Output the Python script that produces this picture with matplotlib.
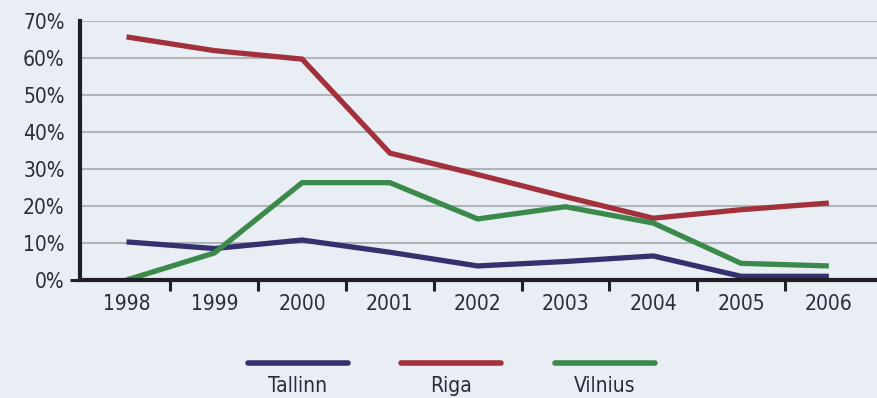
import matplotlib.pyplot as plt
from matplotlib.lines import Line2D
import numpy as np

years = ["1998", "1999", "2000", "2001", "2002", "2003", "2004", "2005", "2006"]
tallinn = [10.3, 8.5, 10.8, 7.5, 3.8, 5.0, 6.5, 1.0, 1.0]
riga = [65.7, 62.0, 59.7, 34.3, 28.5, 22.5, 16.7, 19.0, 20.8]
vilnius = [0.0, 7.3, 26.3, 26.3, 16.5, 19.8, 15.4, 4.5, 3.8]

names = ["Tallinn", "Riga", "Vilnius"]
series = [tallinn, riga, vilnius]
colors = ["#35306e", "#a3313b", "#3b8a4c"]

bg = "#e8eef4"
text_col = "#2b2b3c"
plt.rcParams['font.family'] = ['DejaVu Sans']
plt.rcParams['font.stretch'] = 'condensed'

fig = plt.figure(figsize=(8.78, 3.98), dpi=100, facecolor=bg)
ax = fig.add_axes([80 / 878, 118 / 398, 798 / 878, 259 / 398])
ax.set_facecolor(bg)

x = np.arange(len(years))
for vals, col in zip(series, colors):
    ax.plot(x, vals, color=col, lw=3.8, solid_capstyle="butt", solid_joinstyle="miter", zorder=3)

ax.set_xlim(-0.53, len(years) - 0.44)
ax.set_ylim(0, 70)

ax.set_yticks(np.arange(0, 71, 10))
ax.set_yticklabels([f"{v}%" for v in range(0, 71, 10)], fontsize=15, color=text_col)
ax.tick_params(axis="y", length=7, width=2.2, color="#1e1e24", pad=4)
# only the 0% tick is drawn
for t in ax.yaxis.get_major_ticks()[1:]:
    t.tick1line.set_visible(False)
ax.grid(axis="y", color="#b0b4b9", lw=1.5, zorder=1)

# tick marks between categories, labels at the centers
ax.set_xticks(np.arange(0.5, len(years) - 0.5, 1))
ax.set_xticklabels([])
ax.tick_params(axis="x", which="major", direction="out", length=8, width=2.2, color="#1e1e24")
ax.set_xticks(x, minor=True)
ax.set_xticklabels(years, minor=True, fontsize=15, color=text_col)
ax.tick_params(axis="x", which="minor", length=0, pad=10)

for s in ["top", "right"]:
    ax.spines[s].set_visible(False)
for s in ["left", "bottom"]:
    ax.spines[s].set_color("#1e1e24")
    ax.spines[s].set_linewidth(3)
ax.spines["bottom"].set_zorder(4)

# legend: line with the name under it
leg_x = [298, 451, 605]
for name, col, cx in zip(names, colors, leg_x):
    fig.add_artist(Line2D([(cx - 50) / 878, (cx + 50) / 878], [1 - 363 / 398, 1 - 363 / 398],
                          color=col, lw=4, solid_capstyle="round"))
    fig.text(cx / 878, 1 - 386 / 398, name, ha="center", va="center", fontsize=15, color=text_col)

fig.savefig("out.png", dpi=100, facecolor=bg)
